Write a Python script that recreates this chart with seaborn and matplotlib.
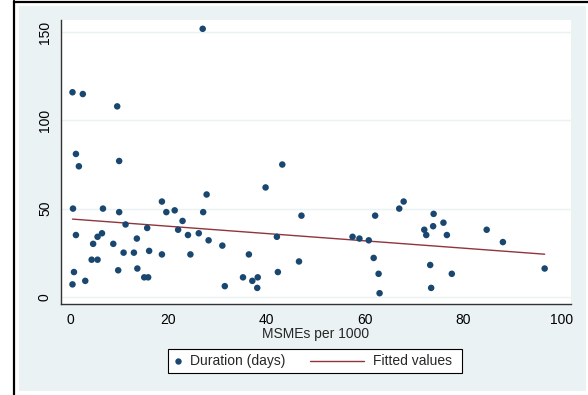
import matplotlib
matplotlib.use("Agg")
import matplotlib.pyplot as plt
import seaborn as sns
import pandas as pd
from matplotlib.patches import Rectangle
from matplotlib.lines import Line2D

msmes = [27.0, 0.5, 2.6, 9.6, 1.2, 10.0, 1.8, 0.6, 6.7, 10.0, 11.3, 1.2, 6.5, 5.6,
         4.7, 8.8, 13.6, 10.9, 13.0, 15.7, 16.1, 4.4, 5.6, 0.8, 0.5, 3.1, 9.8, 13.7,
         15.1, 15.9, 18.7, 19.6, 21.3, 22.9, 22.0, 24.0, 26.2, 27.1, 27.8, 28.2, 18.7,
         24.5, 31.0, 31.5, 35.2, 43.2, 39.8, 47.1, 42.1, 36.4, 46.6, 42.3, 37.1, 38.2,
         38.1, 57.5, 58.9, 60.8, 62.1, 61.8, 62.8, 63.0, 67.0, 67.9, 74.0, 76.0, 72.1,
         73.9, 72.5, 76.7, 84.8, 88.1, 73.3, 77.7, 73.5, 96.6]
duration = [152, 116, 115, 108, 81, 77, 74, 50, 50, 48, 41, 35, 36, 34,
            30, 30, 33, 25, 25, 39, 26, 21, 21, 14, 7, 9, 15, 16,
            11, 11, 54, 48, 49, 43, 38, 35, 36, 48, 58, 32, 24,
            24, 29, 6, 11, 75, 62, 46, 34, 24, 20, 14, 9, 11,
            5, 34, 33, 32, 46, 22, 13, 2, 50, 54, 47, 42, 38,
            40, 35, 35, 38, 31, 18, 13, 5, 16]
x_ticks = [0, 20, 40, 60, 80, 100]
y_ticks = [0, 50, 100, 150]
legend_labels = ["Duration (days)", "Fitted values"]

df = pd.DataFrame({"MSMEs per 1000": msmes, "Duration (days)": duration})

navy = "#1a476f"
maroon = "#90353b"
bg = "#eaf2f3"
FS = 10

sns.set_style("white")
plt.rcParams["font.family"] = ["Liberation Sans", "DejaVu Sans"]

W, H = 588, 395
fig = plt.figure(figsize=(W / 100, H / 100), dpi=100)
fig.patch.set_facecolor("white")


def fx(px):
    return px / W


def fy(py):
    return 1 - py / H


fig.patches.append(Rectangle((fx(19), fy(391)), fx(585.5) - fx(19), (391 - 6) / H,
                             transform=fig.transFigure, facecolor=bg, edgecolor="none", zorder=-5))
fig.lines.append(Line2D([fx(14), fx(14)], [0, fy(1)], transform=fig.transFigure,
                        color="black", lw=1.6, zorder=-4))
fig.lines.append(Line2D([fx(14), 1], [fy(2), fy(2)], transform=fig.transFigure,
                        color="black", lw=1.6, zorder=-4))

ax = fig.add_axes([fx(60.7), fy(304.3), fx(570.7) - fx(60.7), (304.3 - 20) / H], zorder=2)
ax.set_facecolor("white")

for yv in y_ticks:
    ax.axhline(yv, color=bg, lw=1.0, zorder=0)

sns.scatterplot(data=df, x="MSMEs per 1000", y="Duration (days)", ax=ax, color=navy,
                s=22, edgecolor="none", linewidth=0, zorder=3)
sns.regplot(data=df, x="MSMEs per 1000", y="Duration (days)", ax=ax, scatter=False,
            ci=None, truncate=True, color=maroon, line_kws={"lw": 1.0, "zorder": 2})

ax.set_xlim(-1.9, 101.9)
ax.set_ylim(-4.3, 157)
ax.set_xticks(x_ticks)
ax.set_yticks(y_ticks)
ax.set_yticklabels([str(v) for v in y_ticks], rotation=90, va="center")
ax.tick_params(axis="both", length=4.3, width=0.8, color="black", labelsize=FS,
               labelcolor="black", pad=2)
ax.set_xlabel("MSMEs per 1000", fontsize=FS, labelpad=0)
ax.set_ylabel("")
for s in ["top", "right"]:
    ax.spines[s].set_visible(False)
for s in ["left", "bottom"]:
    ax.spines[s].set_color("#333333")
    ax.spines[s].set_linewidth(1.0)

# legend box drawn in figure coordinates (Stata style)
fig.patches.append(Rectangle((fx(168.3), fy(372.7)), fx(462.3) - fx(168.3), (372.7 - 349) / H,
                             transform=fig.transFigure, facecolor="white", edgecolor="black",
                             lw=0.8, zorder=3))
ly = fy(361)
fig.lines.append(Line2D([fx(178.3)], [ly], transform=fig.transFigure, marker="o", ls="none",
                        color=navy, markersize=4.6, markeredgewidth=0, zorder=4))
fig.text(fx(190), ly, legend_labels[0], fontsize=FS, va="center", ha="left", zorder=4)
fig.lines.append(Line2D([fx(310), fx(364)], [ly, ly], transform=fig.transFigure,
                        color=maroon, lw=1.0, zorder=4))
fig.text(fx(372.7), ly, legend_labels[1], fontsize=FS, va="center", ha="left", zorder=4)

fig.savefig("out.png", dpi=100)
